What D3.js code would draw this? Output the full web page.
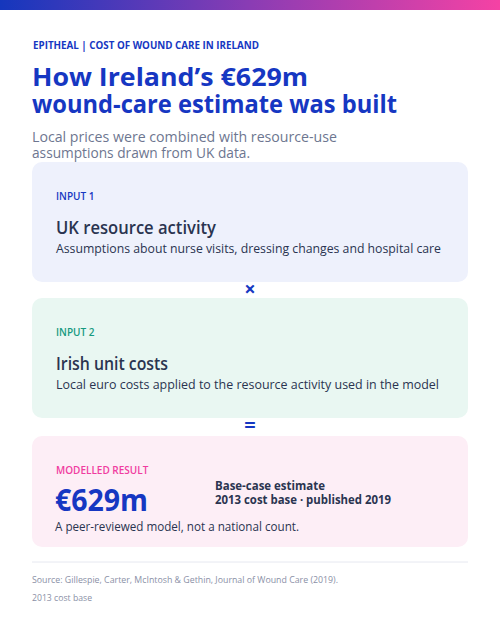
<!DOCTYPE html><html><head><meta charset="utf-8"><script src="https://cdn.jsdelivr.net/npm/d3@7"></script>
<style>body{margin:0;background:#fff}text{font-family:"Open Sans",sans-serif}</style></head><body><svg id="c" width="500" height="625"></svg>
<script>
const kicker="EPITHEAL | COST OF WOUND CARE IN IRELAND";
const titleLines=["How Ireland’s €629m","wound-care estimate was built"];
const subLines=["Local prices were combined with resource-use","assumptions drawn from UK data."];
const cardLabels=["INPUT 1","INPUT 2","MODELLED RESULT"];
const cardTitles=["UK resource activity","Irish unit costs","€629m"];
const cardDescs=["Assumptions about nurse visits, dressing changes and hospital care","Local euro costs applied to the resource activity used in the model","A peer-reviewed model, not a national count."];
const operators=["×","="];
const resultNotes=["Base-case estimate","2013 cost base · published 2019"];
const sources=["Source: Gillespie, Carter, McIntosh & Gethin, Journal of Wound Care (2019).","2013 cost base"];

const svg=d3.select("#c");
const g=svg.append("defs").append("linearGradient").attr("id","gr");
g.append("stop").attr("offset","0").attr("stop-color","#1537bd");
g.append("stop").attr("offset","0.5").attr("stop-color","#8a3cb4");
g.append("stop").attr("offset","1").attr("stop-color","#f542a4");
svg.append("rect").attr("width",500).attr("height",10).attr("fill","url(#gr)");
const blue="#1637c2",dark="#2a3450",gray="#6d7690";
function fit(sel,w){sel.attr("textLength",w).attr("lengthAdjust","spacingAndGlyphs");return sel;}
fit(svg.append("text").attr("x",33).attr("y",49).attr("font-size",11).attr("font-weight",700).attr("fill",blue).text(kicker),226);
[[86,276],[113,365]].forEach(([y,w],i)=>fit(svg.append("text").attr("x",32).attr("y",y).attr("font-size",25).attr("font-weight",700).attr("fill",blue).text(titleLines[i]),w));
[[142,305],[158,218]].forEach(([y,w],i)=>fit(svg.append("text").attr("x",32).attr("y",y).attr("font-size",14).attr("fill",gray).text(subLines[i]),w));
const cards=[{y:162,h:120,fill:"#eef1fc",lc:blue},{y:298,h:120,fill:"#e9f7f2",lc:"#159a80"},{y:436,h:111,fill:"#fdeef6",lc:"#f03ca0"}];
const tw=[160,112], dw=[385,383];
cards.forEach((c,i)=>{
  svg.append("rect").attr("x",32).attr("y",c.y).attr("width",436).attr("height",c.h).attr("rx",10).attr("fill",c.fill);
  svg.append("text").attr("x",56).attr("y",c.y+38).attr("font-size",10).attr("font-weight",600).attr("fill",c.lc).text(cardLabels[i]);
  if(i<2){
    fit(svg.append("text").attr("x",56).attr("y",c.y+72).attr("font-size",18).attr("font-weight",600).attr("fill",dark).text(cardTitles[i]),tw[i]);
    fit(svg.append("text").attr("x",56).attr("y",c.y+91).attr("font-size",12).attr("fill",dark).text(cardDescs[i]),dw[i]);
  }else{
    fit(svg.append("text").attr("x",55).attr("y",c.y+75).attr("font-size",31).attr("font-weight",700).attr("fill",blue).text(cardTitles[i]),93);
    [110,176].forEach((w,j)=>fit(svg.append("text").attr("x",215).attr("y",c.y+54+j*14).attr("font-size",12).attr("font-weight",700).attr("fill",dark).text(resultNotes[j]),w));
    fit(svg.append("text").attr("x",55).attr("y",c.y+95).attr("font-size",12).attr("fill",dark).text(cardDescs[i]),244);
  }
});
operators.forEach((o,i)=>svg.append("text").attr("x",250).attr("y",[296,432][i]).attr("text-anchor","middle").attr("font-size",20).attr("font-weight",700).attr("fill",blue).text(o));
svg.append("line").attr("x1",32).attr("x2",468).attr("y1",562).attr("y2",562).attr("stroke","#e6e8f0");
[306,60].forEach((w,i)=>fit(svg.append("text").attr("x",32).attr("y",583+i*18).attr("font-size",9.5).attr("fill","#8a90a6").text(sources[i]),w));
</script></body></html>
